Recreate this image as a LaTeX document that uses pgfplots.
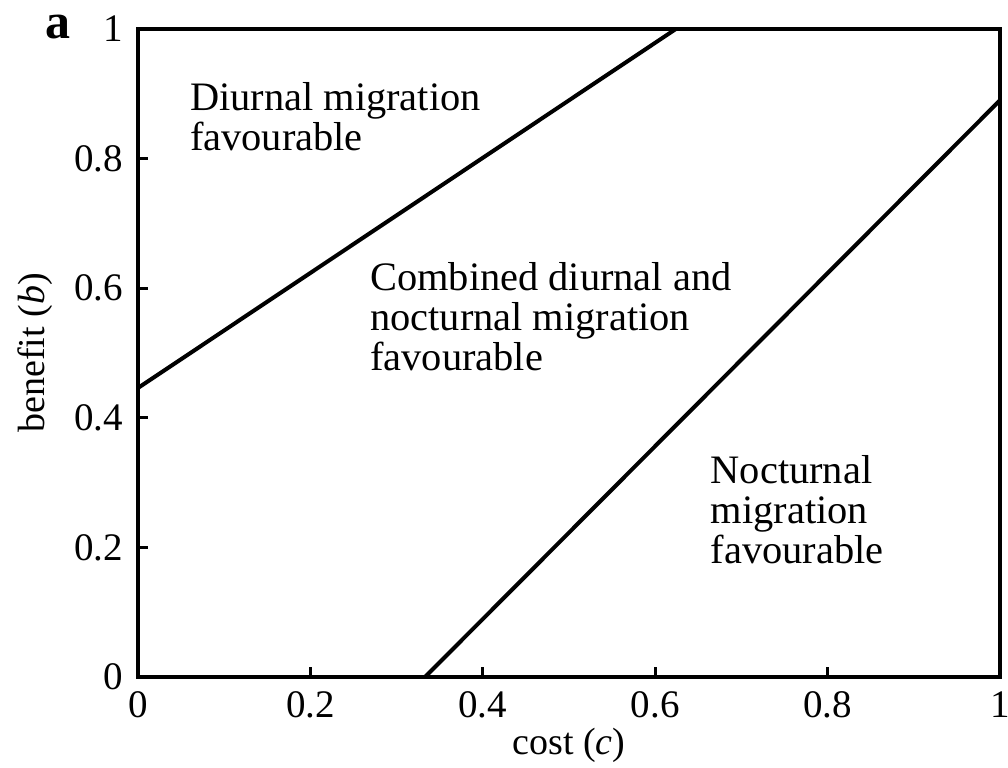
\documentclass[border=0pt]{standalone}
\usepackage{fontspec}
\setmainfont{Liberation Serif}
\usepackage{pgfplots}
\pgfplotsset{compat=1.18}
\begin{document}
\begin{tikzpicture}
\begin{axis}[
  scale only axis, width=431pt, height=324pt,
  xmin=0, xmax=1, ymin=0, ymax=1,
  xtick={0,0.2,0.4,0.6,0.8,1}, ytick={0,0.2,0.4,0.6,0.8,1},
  xticklabels={0,0.2,0.4,0.6,0.8,1}, yticklabels={0,0.2,0.4,0.6,0.8,1},
  tick pos=left, tick align=inside,
  major tick length=5pt,
  axis line style={line width=2pt},
  every tick/.style={line width=1.5pt, black},
  ticklabel style={font=\fontsize{19.5}{19.5}\selectfont},
  xticklabel style={yshift=-4pt},
  yticklabel style={xshift=-4pt},
  xlabel={cost (\textit{c})}, ylabel={benefit (\textit{b})},
  label style={font=\fontsize{19}{19}\selectfont},
  xlabel style={yshift=2pt},
  ylabel style={yshift=4pt},
  clip=true,
]
\addplot[black, line width=2pt] coordinates {(0,0.446) (0.624,1)};
\addplot[black, line width=2pt] coordinates {(0.333,0) (1,0.89)};
\node[anchor=north west, inner sep=0pt, align=left, font=\fontsize{20.2}{20}\selectfont] at (rel axis cs:0.060,0.918) {Diurnal migration\\favourable};
\node[anchor=north west, inner sep=0pt, align=left, font=\fontsize{20.2}{20}\selectfont] at (rel axis cs:0.269,0.640) {Combined diurnal and\\nocturnal migration\\favourable};
\node[anchor=north west, inner sep=0pt, align=left, font=\fontsize{20.2}{20}\selectfont] at (rel axis cs:0.664,0.343) {Nocturnal\\migration\\favourable};
\end{axis}
\node[anchor=base, inner sep=0pt, font=\fontsize{25}{25}\selectfont\bfseries] at ([xshift=-40pt, yshift=-5pt]current axis.north west) {a};
\pgfresetboundingbox
\path[use as bounding box] ([xshift=-69pt, yshift=-45.5pt]current axis.south west) rectangle ([xshift=4pt, yshift=14.5pt]current axis.north east);
\end{tikzpicture}
\end{document}
